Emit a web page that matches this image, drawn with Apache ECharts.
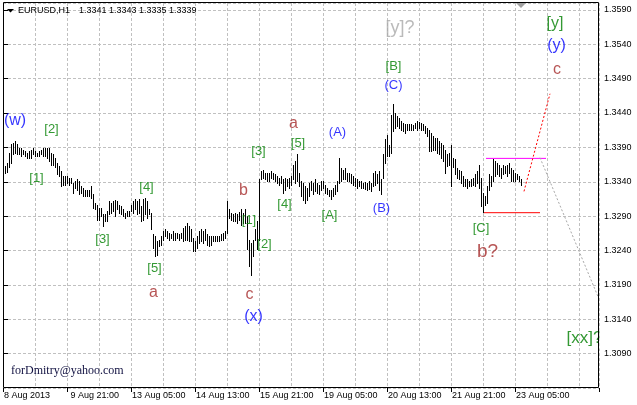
<!DOCTYPE html>
<html>
<head>
<meta charset="utf-8">
<title>EURUSD,H1</title>
<script src="https://cdn.jsdelivr.net/npm/echarts@6.0.0/dist/echarts.min.js"></script>
<style>
html,body{margin:0;padding:0;background:#ffffff;}
#chart{width:637px;height:405px;}
</style>
</head>
<body>
<div id="chart"></div>
<script>
// ---------------- data ----------------
const instrument = 'EURUSD,H1';
const lastBarOHLC = [1.3341, 1.3343, 1.3335, 1.3339];
const timeTickLabels = ['8 Aug 2013', ' 9 Aug 21:00', '13 Aug 05:00', '14 Aug 13:00', '15 Aug 21:00',
  '19 Aug 05:00', '20 Aug 13:00', '21 Aug 21:00', '23 Aug 05:00'];
const barsPerTimeLabel = 32;
const barsPerGridLine = 16;
const priceMin = 1.3040;
const priceMax = 1.3600;
const priceStep = 0.005;
const watermark = 'forDmitry@yahoo.com';

// hourly bar highs / lows, 8 Aug 13:00 .. 23 Aug 08:00
const highs = [
  1.3358,1.3362,1.3367,1.3381,1.3394,1.3396,1.3398,1.3394,1.3389,1.3389,
  1.3386,1.3384,1.3381,1.3384,1.3386,1.3389,1.3384,1.3381,1.3384,1.3386,
  1.3389,1.3389,1.3389,1.3389,1.3381,1.3379,1.3374,1.3367,1.3362,1.3355,
  1.3347,1.3347,1.3347,1.3345,1.3345,1.3338,1.3340,1.3343,1.3340,1.3333,
  1.3330,1.3328,1.3328,1.3328,1.3333,1.3321,1.3309,1.3306,1.3301,1.3301,
  1.3292,1.3292,1.3297,1.3311,1.3309,1.3311,1.3313,1.3311,1.3306,1.3304,
  1.3299,1.3294,1.3297,1.3297,1.3306,1.3311,1.3314,1.3311,1.3314,1.3304,
  1.3314,1.3316,1.3311,1.3299,1.3294,1.3263,1.3260,1.3253,1.3255,1.3260,
  1.3267,1.3270,1.3267,1.3265,1.3263,1.3267,1.3265,1.3265,1.3263,1.3265,
  1.3272,1.3275,1.3280,1.3275,1.3270,1.3258,1.3253,1.3260,1.3267,1.3270,
  1.3267,1.3270,1.3263,1.3260,1.3260,1.3261,1.3260,1.3260,1.3260,1.3263,
  1.3265,1.3267,1.3311,1.3299,1.3294,1.3292,1.3294,1.3292,1.3296,1.3299,
  1.3294,1.3299,1.3289,1.3255,1.3250,1.3255,1.3270,1.3282,1.3343,1.3355,
  1.3357,1.3352,1.3352,1.3352,1.3355,1.3352,1.3350,1.3348,1.3345,1.3347,
  1.3344,1.3345,1.3344,1.3345,1.3347,1.3364,1.3369,1.3379,1.3352,1.3340,
  1.3338,1.3333,1.3330,1.3338,1.3340,1.3338,1.3343,1.3338,1.3335,1.3340,
  1.3340,1.3335,1.3330,1.3328,1.3328,1.3330,1.3335,1.3340,1.3374,1.3360,
  1.3357,1.3360,1.3352,1.3352,1.3350,1.3347,1.3345,1.3343,1.3340,1.3340,
  1.3338,1.3339,1.3338,1.3340,1.3338,1.3352,1.3355,1.3350,1.3355,1.3343,
  1.3379,1.3401,1.3408,1.3393,1.3437,1.3452,1.3440,1.3435,1.3432,1.3427,
  1.3425,1.3423,1.3423,1.3423,1.3423,1.3422,1.3425,1.3427,1.3426,1.3425,
  1.3423,1.3420,1.3418,1.3415,1.3410,1.3406,1.3403,1.3403,1.3398,1.3396,
  1.3393,1.3386,1.3379,1.3381,1.3393,1.3374,1.3372,1.3360,1.3357,1.3355,
  1.3347,1.3343,1.3343,1.3341,1.3343,1.3345,1.3350,1.3355,1.3364,1.3345,
  1.3323,1.3318,1.3333,1.3350,1.3347,1.3372,1.3369,1.3367,1.3364,1.3360,
  1.3364,1.3362,1.3364,1.3367,1.3360,1.3357,1.3352,1.3350,1.3347,1.3343
];
const lows = [
  1.3348,1.3352,1.3353,1.3360,1.3367,1.3379,1.3381,1.3379,1.3379,1.3377,
  1.3379,1.3377,1.3374,1.3374,1.3374,1.3379,1.3377,1.3377,1.3377,1.3379,
  1.3377,1.3377,1.3374,1.3369,1.3364,1.3364,1.3360,1.3350,1.3347,1.3333,
  1.3335,1.3335,1.3338,1.3335,1.3338,1.3323,1.3330,1.3328,1.3321,1.3323,
  1.3318,1.3318,1.3318,1.3318,1.3316,1.3301,1.3299,1.3284,1.3284,1.3289,
  1.3275,1.3282,1.3282,1.3292,1.3294,1.3297,1.3289,1.3299,1.3294,1.3292,
  1.3289,1.3287,1.3289,1.3289,1.3297,1.3294,1.3299,1.3292,1.3294,1.3282,
  1.3284,1.3292,1.3287,1.3292,1.3270,1.3243,1.3231,1.3233,1.3246,1.3248,
  1.3255,1.3260,1.3258,1.3255,1.3258,1.3255,1.3255,1.3258,1.3255,1.3258,
  1.3253,1.3255,1.3255,1.3253,1.3253,1.3238,1.3238,1.3243,1.3250,1.3253,
  1.3250,1.3255,1.3248,1.3246,1.3248,1.3253,1.3253,1.3253,1.3253,1.3255,
  1.3255,1.3258,1.3265,1.3287,1.3284,1.3282,1.3282,1.3279,1.3284,1.3277,
  1.3279,1.3279,1.3241,1.3216,1.3204,1.3231,1.3255,1.3241,1.3255,1.3343,
  1.3345,1.3343,1.3340,1.3340,1.3345,1.3343,1.3340,1.3338,1.3335,1.3338,
  1.3323,1.3328,1.3333,1.3330,1.3335,1.3343,1.3338,1.3340,1.3333,1.3318,
  1.3313,1.3309,1.3313,1.3318,1.3328,1.3321,1.3326,1.3323,1.3321,1.3328,
  1.3330,1.3323,1.3321,1.3318,1.3314,1.3318,1.3321,1.3326,1.3338,1.3340,
  1.3343,1.3343,1.3340,1.3340,1.3338,1.3335,1.3333,1.3330,1.3333,1.3330,
  1.3330,1.3329,1.3328,1.3329,1.3326,1.3333,1.3335,1.3338,1.3328,1.3321,
  1.3345,1.3367,1.3377,1.3377,1.3381,1.3413,1.3418,1.3420,1.3418,1.3415,
  1.3413,1.3410,1.3415,1.3415,1.3415,1.3414,1.3418,1.3415,1.3418,1.3415,
  1.3415,1.3410,1.3406,1.3384,1.3384,1.3386,1.3386,1.3381,1.3379,1.3374,
  1.3369,1.3352,1.3362,1.3364,1.3333,1.3360,1.3350,1.3345,1.3343,1.3338,
  1.3333,1.3333,1.3330,1.3333,1.3333,1.3335,1.3333,1.3338,1.3330,1.3304,
  1.3296,1.3306,1.3309,1.3328,1.3333,1.3340,1.3347,1.3350,1.3347,1.3345,
  1.3350,1.3352,1.3347,1.3352,1.3340,1.3340,1.3340,1.3343,1.3340,1.3335
];

// drawn levels / projections: [barIndex, price]
const upperLevel = [[241, 1.3374], [271, 1.3374]];
const lowerLevel = [[240, 1.3295], [268, 1.3295]];
const upProjection = [[260, 1.3326], [273, 1.3468]];
const downProjection = [[268, 1.3375], [297, 1.3173]];

// wave labels: [text, barIndex, price, degree]
const waveLabels = [
  ['(w)', 5.5, 1.3427, 'W'],
  ['[1]', 16.25, 1.3343, 'P'],
  ['[2]', 23.75, 1.3414, 'P'],
  ['[3]', 49.25, 1.3254, 'P'],
  ['[4]', 71.25, 1.3330, 'P'],
  ['[5]', 75.25, 1.3212, 'P'],
  ['a', 74.75, 1.3178, 'm'],
  ['b', 119.75, 1.3325, 'm'],
  ['[1]', 122.5, 1.3282, 'P'],
  ['[2]', 130.25, 1.3248, 'P'],
  ['c', 122.75, 1.3174, 'm'],
  ['(x)', 124.75, 1.3142, 'W'],
  ['[3]', 127.25, 1.3382, 'P'],
  ['[4]', 140.25, 1.3306, 'P'],
  ['[5]', 147, 1.3394, 'P'],
  ['a', 144.75, 1.3423, 'm'],
  ['[A]', 162.75, 1.3289, 'P'],
  ['(A)', 166.75, 1.3410, 'I'],
  ['(B)', 188.75, 1.3300, 'I'],
  ['[B]', 194.75, 1.3507, 'P'],
  ['(C)', 194.75, 1.3479, 'I'],
  ['[y]?', 198, 1.3562, 'alt'],
  ['[C]', 238.5, 1.3271, 'P'],
  ['b?', 241.75, 1.3236, 'mq'],
  ['[y]', 275.5, 1.3568, 'WG'],
  ['(y)', 276.25, 1.3536, 'W'],
  ['c', 276.5, 1.3501, 'm'],
  ['[xx]?', 290.25, 1.3111, 'WG2']
];

// ---------------- styles ----------------
const FONT = "'Liberation Sans', Arial, sans-serif";
const degreeStyle = {
  P:   { color: '#008000', size: 13 },
  I:   { color: '#0000ff', size: 13 },
  m:   { color: '#a52a2a', size: 16 },
  mq:  { color: '#a52a2a', size: 19 },
  W:   { color: '#0000ff', size: 16 },
  WG:  { color: '#008000', size: 16 },
  WG2: { color: '#008000', size: 17 },
  alt: { color: '#a9a9a9', size: 18 }
};
const GRID_COLOR = '#c0c0c0';

// ---------------- build ----------------
const nSlots = 298;
const categories = [];
for (let k = 0; k < nSlots; k++) categories.push('');
timeTickLabels.forEach(function (t, j) { categories[j * barsPerTimeLabel] = t; });
const barData = highs.map(function (h, i) { return [i, h, lows[i]]; });

function lineSeries(data, color, dash) {
  return {
    type: 'line', xAxisIndex: 1, yAxisIndex: 0, data: data, symbol: 'none',
    silent: true, z: 4,
    lineStyle: { color: color, width: 1, type: dash || 'solid' }
  };
}

const chart = echarts.init(document.getElementById('chart'), null, { renderer: 'canvas' });
const option = {
  animation: false,
  backgroundColor: '#ffffff',
  grid: { left: 3, right: 38, top: 3, bottom: 17, containLabel: false, outerBoundsMode: 'none' },
  xAxis: [{
    type: 'category', data: categories, boundaryGap: true, position: 'bottom',
    axisLine: { show: false },
    axisTick: { show: true, interval: function (i) { return categories[i] !== ''; }, length: 4,
      lineStyle: { color: '#000', width: 1 } },
    axisLabel: { show: true, interval: function (i) { return categories[i] !== ''; }, align: 'left',
      margin: 3, color: '#000', fontSize: 9, fontFamily: FONT },
    splitLine: { show: true, interval: function (i) { return i > 0 && i % barsPerGridLine === 0; },
      lineStyle: { color: GRID_COLOR, type: [3, 2], width: 1 } }
  }, {
    type: 'value', min: -0.5, max: nSlots - 0.5, show: false, splitLine: { show: false }
  }],
  yAxis: [{
    type: 'value', position: 'right', min: priceMin, max: priceMax, interval: priceStep,
    axisLine: { show: false },
    axisTick: { show: true, length: 4, lineStyle: { color: '#000', width: 1 } },
    axisLabel: { show: true, margin: 5, color: '#000', fontSize: 9, fontFamily: FONT,
      showMinLabel: false, showMaxLabel: false,
      formatter: function (v) { return v.toFixed(4); } },
    splitLine: { show: true, lineStyle: { color: GRID_COLOR, type: [3, 2], width: 1 } }
  }],
  series: [
    {
      type: 'custom', xAxisIndex: 0, yAxisIndex: 0, data: barData,
      encode: { x: 0, y: [1, 2] }, silent: true, z: 3,
      renderItem: function (params, api) {
        const idx = api.value(0);
        const pH = api.coord([idx, api.value(1)]);
        const pL = api.coord([idx, api.value(2)]);
        const x = Math.round(pH[0]) - 0.5;
        return {
          type: 'line',
          shape: { x1: x, y1: Math.floor(pH[1]), x2: x, y2: Math.ceil(pL[1]) },
          style: { stroke: '#000', lineWidth: 1 }
        };
      }
    },
    lineSeries(upperLevel, '#ff00ff'),
    lineSeries(lowerLevel, '#ff0000'),
    lineSeries(upProjection, '#ff0000', [2, 2]),
    lineSeries(downProjection, '#a8a8a8', [2, 2]),
    {
      type: 'scatter', xAxisIndex: 1, yAxisIndex: 0, symbolSize: 0, silent: true, z: 5,
      itemStyle: { color: 'rgba(0,0,0,0)' },
      data: waveLabels.map(function (w) {
        const st = degreeStyle[w[3]];
        return {
          value: [w[1], w[2]],
          label: { show: true, position: 'inside', formatter: w[0], color: st.color,
            fontSize: st.size, fontFamily: FONT, offset: [0, -1] }
        };
      })
    }
  ],
  graphic: [
    { type: 'rect', silent: true, z: 50, shape: { x: 599.5, y: 327, width: 14, height: 22 },
      style: { fill: '#ffffff' } },
    { type: 'rect', silent: true, z: 100, shape: { x: 3.5, y: 2.5, width: 595, height: 385 },
      style: { fill: 'none', stroke: '#000000', lineWidth: 1 } },
    { type: 'polygon', silent: true, z: 100, shape: { points: [[7, 9], [14, 9], [10.5, 12.5]] },
      style: { fill: '#000000' } },
    { type: 'polygon', silent: true, z: 100, shape: { points: [[516, 3], [526, 3], [521, 8]] },
      style: { fill: '#a0a0a0' } },
    { type: 'text', silent: true, z: 100, x: 18, y: 11,
      style: { text: instrument, font: '9px ' + FONT, fill: '#000', verticalAlign: 'middle', textVerticalAlign: 'middle' } },
    { type: 'text', silent: true, z: 100, x: 79, y: 11,
      style: { text: lastBarOHLC.map(function (v) { return v.toFixed(4); }).join(' '), font: '9px ' + FONT,
        fill: '#000', verticalAlign: 'middle', textVerticalAlign: 'middle' } },
    { type: 'text', silent: true, z: 100, x: 11, y: 371,
      style: { text: watermark, font: "12px 'Liberation Serif', 'Times New Roman', serif", fill: '#101040',
        verticalAlign: 'middle', textVerticalAlign: 'middle' } }
  ]
};
chart.setOption(option);
</script>
</body>
</html>
